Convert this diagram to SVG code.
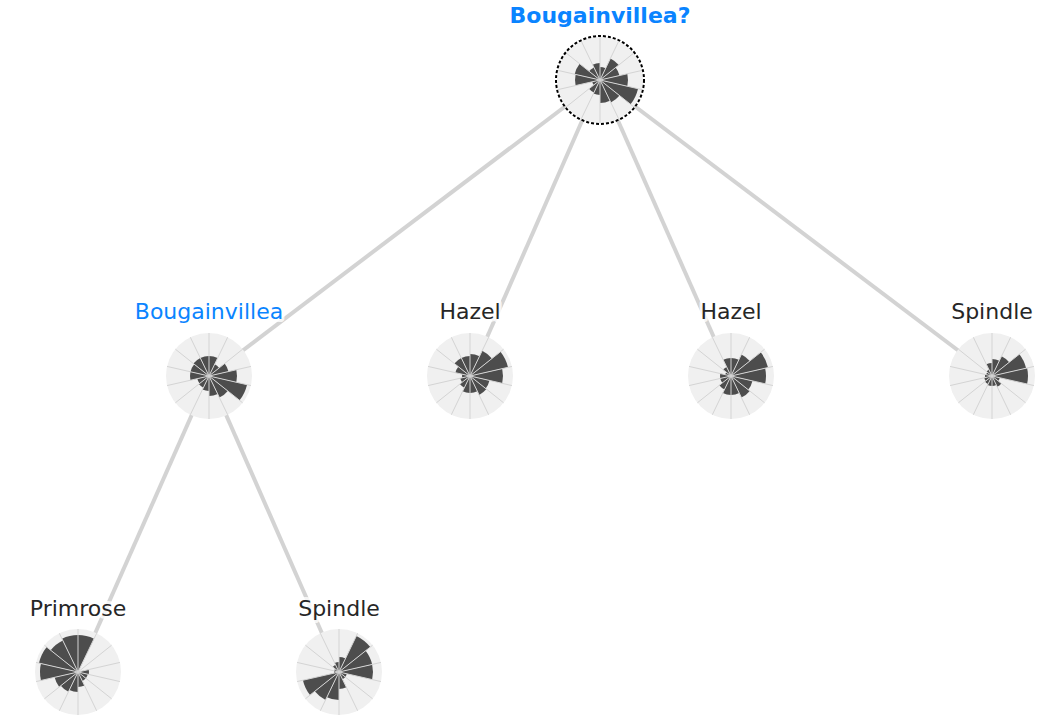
<svg xmlns="http://www.w3.org/2000/svg" width="1048" height="726" viewBox="0 0 1048 726">
<style>
.bg{fill:#f0f0f0}
.bar{fill:#4d4d4d}
.grid{stroke:#d4d4d4;stroke-width:1;fill:none}
.edge{stroke:#d3d3d3;stroke-width:4;fill:none}
.lbl{font-family:"DejaVu Sans",sans-serif;font-size:22px;text-anchor:middle;fill:#262626;stroke:#ffffff;stroke-opacity:0.8;stroke-width:6;stroke-linejoin:round;paint-order:stroke}
.blue{fill:#0a84ff}
.bold{font-weight:bold}
.sel{fill:none;stroke:#000;stroke-width:2;stroke-dasharray:3 2}
</style>
<defs>
<path id="w0" d="M0,0 L0,-1 A1,1 0 0 1 0.43388,-0.90097 Z"/>
<path id="w1" d="M0,0 L0.43388,-0.90097 A1,1 0 0 1 0.78183,-0.62349 Z"/>
<path id="w2" d="M0,0 L0.78183,-0.62349 A1,1 0 0 1 0.97493,-0.22252 Z"/>
<path id="w3" d="M0,0 L0.97493,-0.22252 A1,1 0 0 1 0.97493,0.22252 Z"/>
<path id="w4" d="M0,0 L0.97493,0.22252 A1,1 0 0 1 0.78183,0.62349 Z"/>
<path id="w5" d="M0,0 L0.78183,0.62349 A1,1 0 0 1 0.43388,0.90097 Z"/>
<path id="w6" d="M0,0 L0.43388,0.90097 A1,1 0 0 1 0,1 Z"/>
<path id="w7" d="M0,0 L0,1 A1,1 0 0 1 -0.43388,0.90097 Z"/>
<path id="w8" d="M0,0 L-0.43388,0.90097 A1,1 0 0 1 -0.78183,0.62349 Z"/>
<path id="w9" d="M0,0 L-0.78183,0.62349 A1,1 0 0 1 -0.97493,0.22252 Z"/>
<path id="w10" d="M0,0 L-0.97493,0.22252 A1,1 0 0 1 -0.97493,-0.22252 Z"/>
<path id="w11" d="M0,0 L-0.97493,-0.22252 A1,1 0 0 1 -0.78183,-0.62349 Z"/>
<path id="w12" d="M0,0 L-0.78183,-0.62349 A1,1 0 0 1 -0.43388,-0.90097 Z"/>
<path id="w13" d="M0,0 L-0.43388,-0.90097 A1,1 0 0 1 0,-1 Z"/>
<path id="grid" class="grid" d="M0,0L0,-43M0,0L18.657,-38.742M0,0L33.619,-26.81M0,0L41.922,-9.568M0,0L41.922,9.568M0,0L33.619,26.81M0,0L18.657,38.742M0,0L0,43M0,0L-18.657,38.742M0,0L-33.619,26.81M0,0L-41.922,9.568M0,0L-41.922,-9.568M0,0L-33.619,-26.81M0,0L-18.657,-38.742"/>
</defs>

<g id="connectors">
<line class="edge" x1="600" y1="80" x2="209" y2="376"/>
<line class="edge" x1="600" y1="80" x2="470" y2="376"/>
<line class="edge" x1="600" y1="80" x2="731" y2="376"/>
<line class="edge" x1="600" y1="80" x2="992" y2="376"/>
<line class="edge" x1="209" y1="376" x2="78" y2="672"/>
<line class="edge" x1="209" y1="376" x2="339" y2="672"/>
</g>

<g id="node-root">
<g transform="translate(600,80)">
<circle class="bg" r="43"/>
<g class="bar">
<use href="#w0" transform="scale(13)"/><use href="#w1" transform="scale(24)"/><use href="#w2" transform="scale(20)"/><use href="#w3" transform="scale(28)"/><use href="#w4" transform="scale(39)"/><use href="#w5" transform="scale(25)"/><use href="#w6" transform="scale(23)"/><use href="#w7" transform="scale(15)"/><use href="#w8" transform="scale(14)"/><use href="#w9" transform="scale(8)"/><use href="#w10" transform="scale(25)"/><use href="#w11" transform="scale(26)"/><use href="#w12" transform="scale(14)"/><use href="#w13" transform="scale(17)"/>
</g>
<use href="#grid"/>
<circle class="sel" r="44"/>
</g>
<text class="lbl blue bold" x="600" y="23">Bougainvillea?</text>
</g>

<g id="node-bougainvillea">
<g transform="translate(209,376)">
<circle class="bg" r="43"/>
<g class="bar">
<use href="#w0" transform="scale(20)"/><use href="#w1" transform="scale(13)"/><use href="#w2" transform="scale(20)"/><use href="#w3" transform="scale(28)"/><use href="#w4" transform="scale(39)"/><use href="#w5" transform="scale(24)"/><use href="#w6" transform="scale(20)"/><use href="#w7" transform="scale(15)"/><use href="#w8" transform="scale(13)"/><use href="#w9" transform="scale(12)"/><use href="#w10" transform="scale(19)"/><use href="#w11" transform="scale(19)"/><use href="#w12" transform="scale(20)"/><use href="#w13" transform="scale(20)"/>
</g>
<use href="#grid"/>
</g>
<text class="lbl blue" x="209" y="319">Bougainvillea</text>
</g>

<g id="node-hazel-1">
<g transform="translate(470,376)">
<circle class="bg" r="43"/>
<g class="bar">
<use href="#w0" transform="scale(22)"/><use href="#w1" transform="scale(28)"/><use href="#w2" transform="scale(39)"/><use href="#w3" transform="scale(33)"/><use href="#w4" transform="scale(20)"/><use href="#w5" transform="scale(21)"/><use href="#w6" transform="scale(17)"/><use href="#w7" transform="scale(17)"/><use href="#w8" transform="scale(13)"/><use href="#w9" transform="scale(10)"/><use href="#w10" transform="scale(8)"/><use href="#w11" transform="scale(15)"/><use href="#w12" transform="scale(20)"/><use href="#w13" transform="scale(20)"/>
</g>
<use href="#grid"/>
</g>
<text class="lbl" x="470" y="319">Hazel</text>
</g>

<g id="node-hazel-2">
<g transform="translate(731,376)">
<circle class="bg" r="43"/>
<g class="bar">
<use href="#w0" transform="scale(18)"/><use href="#w1" transform="scale(24)"/><use href="#w2" transform="scale(38)"/><use href="#w3" transform="scale(35)"/><use href="#w4" transform="scale(22)"/><use href="#w5" transform="scale(24)"/><use href="#w6" transform="scale(19)"/><use href="#w7" transform="scale(19)"/><use href="#w8" transform="scale(15)"/><use href="#w9" transform="scale(11)"/><use href="#w10" transform="scale(11)"/><use href="#w11" transform="scale(6)"/><use href="#w12" transform="scale(10)"/><use href="#w13" transform="scale(18)"/>
</g>
<use href="#grid"/>
</g>
<text class="lbl" x="731" y="319">Hazel</text>
</g>

<g id="node-spindle-1">
<g transform="translate(992,376)">
<circle class="bg" r="43"/>
<g class="bar">
<use href="#w0" transform="scale(17)"/><use href="#w1" transform="scale(22)"/><use href="#w2" transform="scale(35)"/><use href="#w3" transform="scale(36)"/><use href="#w4" transform="scale(8)"/><use href="#w5" transform="scale(12)"/><use href="#w6" transform="scale(10)"/><use href="#w7" transform="scale(10)"/><use href="#w8" transform="scale(9)"/><use href="#w9" transform="scale(8)"/><use href="#w10" transform="scale(7)"/><use href="#w11" transform="scale(6)"/><use href="#w12" transform="scale(7)"/><use href="#w13" transform="scale(13)"/>
</g>
<use href="#grid"/>
</g>
<text class="lbl" x="992" y="319">Spindle</text>
</g>

<g id="node-primrose">
<g transform="translate(78,672)">
<circle class="bg" r="43"/>
<g class="bar">
<use href="#w0" transform="scale(37)"/><use href="#w3" transform="scale(11)"/><use href="#w4" transform="scale(10)"/><use href="#w5" transform="scale(10)"/><use href="#w6" transform="scale(15)"/><use href="#w7" transform="scale(20)"/><use href="#w8" transform="scale(22)"/><use href="#w9" transform="scale(24)"/><use href="#w10" transform="scale(38)"/><use href="#w11" transform="scale(40)"/><use href="#w12" transform="scale(35)"/><use href="#w13" transform="scale(37)"/>
</g>
<use href="#grid"/>
</g>
<text class="lbl" x="78" y="616">Primrose</text>
</g>

<g id="node-spindle-2">
<g transform="translate(339,672)">
<circle class="bg" r="43"/>
<g class="bar">
<use href="#w0" transform="scale(15)"/><use href="#w1" transform="scale(40)"/><use href="#w2" transform="scale(34)"/><use href="#w3" transform="scale(34)"/><use href="#w4" transform="scale(8)"/><use href="#w5" transform="scale(8)"/><use href="#w6" transform="scale(17)"/><use href="#w7" transform="scale(28)"/><use href="#w8" transform="scale(31)"/><use href="#w9" transform="scale(37)"/><use href="#w10" transform="scale(5)"/><use href="#w11" transform="scale(5)"/><use href="#w12" transform="scale(8)"/><use href="#w13" transform="scale(10)"/>
</g>
<use href="#grid"/>
</g>
<text class="lbl" x="339" y="616">Spindle</text>
</g>
</svg>
